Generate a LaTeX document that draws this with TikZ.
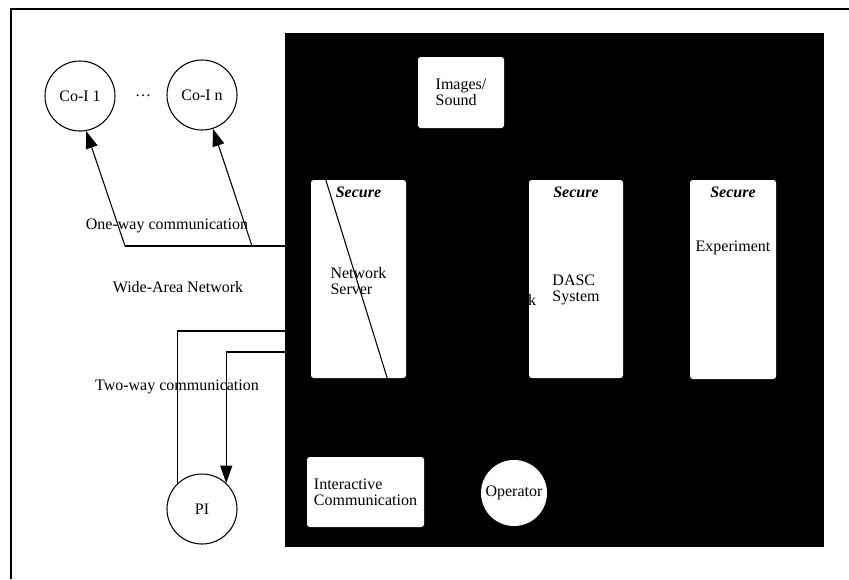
\documentclass[tikz,border=0pt]{standalone}
\usepackage{fontspec}
\setmainfont{Liberation Serif}
\usetikzlibrary{arrows.meta}

\begin{document}
\begin{tikzpicture}[
  x=0.75pt, y=-0.75pt,
  font=\fontsize{12}{11.8}\selectfont,
  site/.style={draw, thick, circle, minimum size=52.5pt, inner sep=0pt},
  wbox/.style={fill=white, rounded corners=2pt, inner sep=0pt},
  sec/.style={anchor=north, yshift=-2pt, font=\fontsize{12}{11.8}\selectfont\bfseries\itshape},
  txt/.style={align=center, font=\fontsize{12}{11.8}\selectfont},
  arr/.style={thick, -{Triangle[length=13pt, width=9pt]}},
  wire/.style={thick}
]
\useasboundingbox (0,0) rectangle (849,579);
% frame
\draw [line width=1.5pt] (11,579) -- (11,9) -- (849,9);

% secure area
\path [fill=black] (285,33) rectangle (824,547);
\node [wbox, minimum width=64.5pt, minimum height=53.25pt, txt, align=left] (img) at (461,92.5) {Images/\\Sound};
\node [wbox, minimum width=71.25pt, minimum height=148.5pt,
  label={[sec]north:Secure}, label={[txt, align=left, yshift=-1.5pt]center:Network\\Server}] (ns) at (358.5,279) {};
\node [wbox, minimum width=70.5pt, minimum height=148.5pt,
  label={[sec]north:Secure}, label={[txt, align=left, yshift=-8pt]center:DASC\\System}] (dasc) at (576,279) {};
\node [wbox, minimum width=64.5pt, minimum height=149.25pt,
  label={[sec]north:Secure}, label={[txt, yshift=23.6pt]center:Experiment}] (exp) at (733,279.5) {};
\node [wbox, minimum width=87.75pt, minimum height=52.5pt, txt, align=left] (ic) at (365.5,492) {Interactive\\Communication};
\node [circle, fill=white, minimum size=49.5pt, inner sep=0pt, txt] (op) at (514,493) {Operator};
\node (stray) at (532,300) {k};
\draw [thick] ([xshift=11.25pt]ns.north west) -- ([xshift=-14.25pt]ns.south east);

% wide-area side
\node [site] (c1) at (80,96) {Co-I 1};
\node [site] (cn) at (202,95) {Co-I n};
\node (dots) at (143,96) {\dots};
\node [site] (pi) at (202,509) {PI};

\coordinate (ow1) at (125,246);
\coordinate (ow2) at (252,246);
\coordinate (owe) at (285,246);
\coordinate (tw1) at (285,331);
\coordinate (tw2) at (285,352);

\draw [wire] (owe) -- (ow1);
\draw [arr] (ow1) -- (c1.-80);
\draw [arr] (ow2) -- (cn.-72);
\draw [wire] (pi.133) |- (tw1);
\draw [arr] (tw2) -| (pi.47);

\node [txt] (oneway) at (167,226) {One-way communication};
\node [txt] (wan) at (178,287) {Wide-Area Network};
\node [txt] (twoway) at (177,387) {Two-way communication};
\end{tikzpicture}
\end{document}
